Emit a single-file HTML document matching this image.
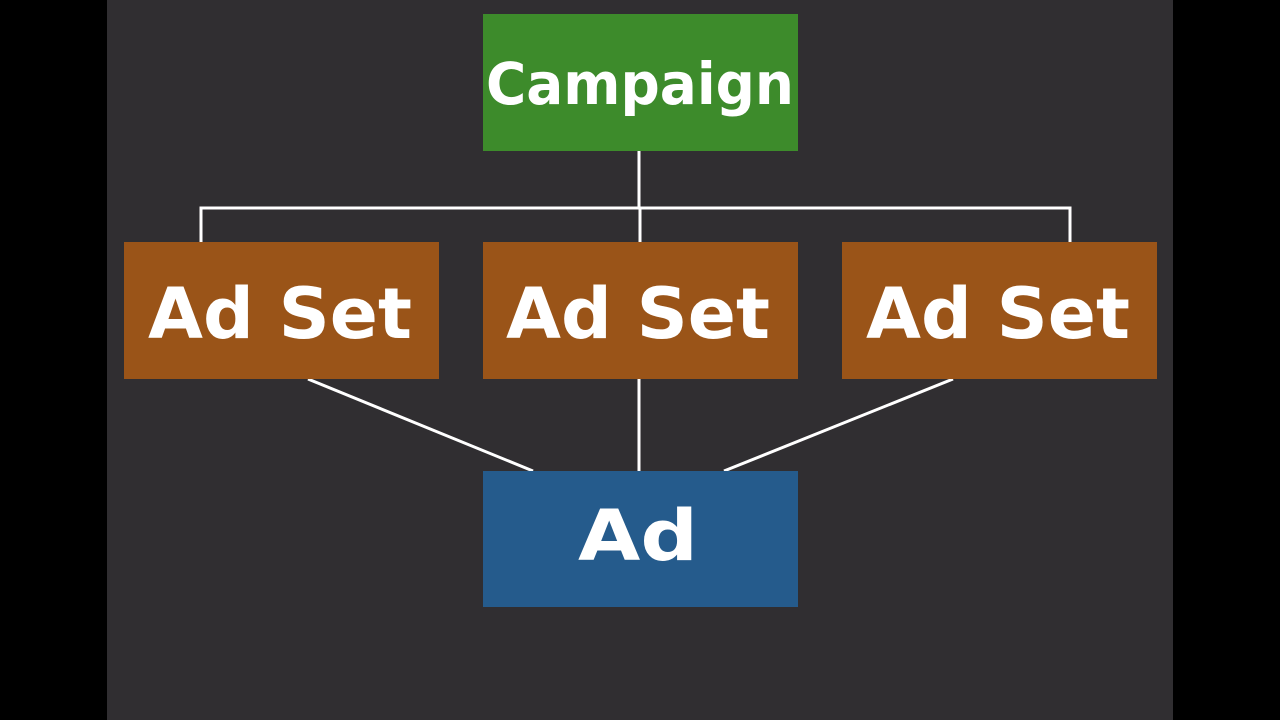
<!DOCTYPE html>
<html><head><style>
html,body{margin:0;padding:0;width:1280px;height:720px;overflow:hidden;background:#000}
</style></head><body>
<svg width="1280" height="720" xmlns="http://www.w3.org/2000/svg">
<rect x="0" y="0" width="1280" height="720" fill="#000"/>
<rect x="107" y="0" width="1066" height="720" fill="#302e31"/>
<g stroke="#fff" stroke-width="3" fill="none">
<line x1="639" y1="151" x2="639" y2="208"/>
<polyline points="201,243 201,208 1070,208 1070,243"/>
<line x1="640" y1="208" x2="640" y2="243"/>
<line x1="308" y1="379" x2="533" y2="471"/>
<line x1="639" y1="379" x2="639" y2="471"/>
<line x1="953" y1="379" x2="724" y2="471"/>
</g>
<rect x="483" y="14" width="315" height="137" fill="#3d8b2b"/>
<rect x="124" y="242" width="315" height="137" fill="#9a5418"/>
<rect x="483" y="242" width="315" height="137" fill="#9a5418"/>
<rect x="842" y="242" width="315" height="137" fill="#9a5418"/>
<rect x="483" y="471" width="315" height="136" fill="#255b8c"/>
<g fill="#fff" font-family="'DejaVu Sans','Liberation Sans',sans-serif" font-weight="bold">
<text x="486" y="104" font-size="58" textLength="308" lengthAdjust="spacingAndGlyphs">Campaign</text>
<text x="148" y="338" font-size="70" textLength="264" lengthAdjust="spacingAndGlyphs">Ad Set</text>
<text x="506" y="338" font-size="70" textLength="264" lengthAdjust="spacingAndGlyphs">Ad Set</text>
<text x="866" y="338" font-size="70" textLength="264" lengthAdjust="spacingAndGlyphs">Ad Set</text>
<text x="578" y="560" font-size="70" textLength="120" lengthAdjust="spacingAndGlyphs">Ad</text>
</g>
</svg>
</body></html>
